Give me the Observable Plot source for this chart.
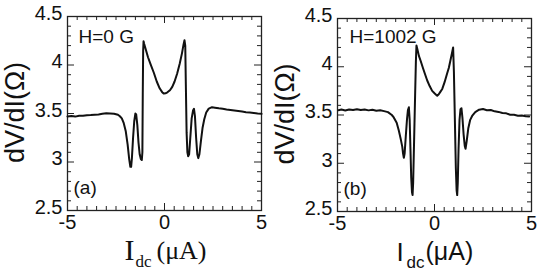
<!DOCTYPE html>
<html><head><meta charset="utf-8">
<script src="https://cdn.jsdelivr.net/npm/d3@7"></script>
<script src="https://cdn.jsdelivr.net/npm/@observablehq/plot@0.6"></script>
<style>
html,body{margin:0;padding:0;background:#fff;}
#row{display:flex;flex-direction:row;width:545px;height:270px;overflow:hidden;}
#row svg{display:block;flex:none;}
</style></head><body><div id="row"></div>
<script>
// ---- axes / ticks ----
const xDomain = [-5, 5];
const yDomain = [2.5, 4.5];
const xLabelTicks = [-5, 0, 5];
const xTickLabels = ["-5", "0", "5"];
const yLabelTicks = [2.5, 3, 3.5, 4, 4.5];
const yTickLabels = ["2.5", "3", "3.5", "4", "4.5"];
const xMinorTicks = [-4.5,-4,-3.5,-3,-2.5,-2,-1.5,-1,-0.5,0.5,1,1.5,2,2.5,3,3.5,4,4.5];
const xMajorTicks = [0];
const yMinorTicks = [2.6,2.7,2.8,2.9,3.1,3.2,3.3,3.4,3.6,3.7,3.8,3.9,4.1,4.2,4.3,4.4];
const yMajorTicks = [3, 3.5, 4];

// ---- panel (a) H = 0 G ----
const currentA = [-5.0,-4.8,-4.6,-4.4,-4.2,-4.0,-3.8,-3.6,-3.4,-3.2,-3.0,-2.8,-2.6,-2.4,-2.3,-2.2,-2.1,-2.0,-1.9,-1.82,-1.76,-1.72,-1.68,-1.62,-1.56,-1.50,-1.46,-1.40,-1.34,-1.28,-1.22,-1.17,-1.14,-1.12,-1.10,-1.08,-1.05,-0.95,-0.85,-0.72,-0.55,-0.40,-0.25,-0.12,-0.03,0.05,0.15,0.28,0.40,0.52,0.65,0.78,0.90,0.98,1.03,1.07,1.10,1.14,1.18,1.22,1.27,1.33,1.40,1.47,1.52,1.57,1.63,1.69,1.74,1.80,1.88,1.96,2.05,2.15,2.28,2.45,2.6,2.8,3.0,3.2,3.4,3.6,3.8,4.0,4.2,4.4,4.6,4.8,5.0];
const dvdiA = [3.470,3.474,3.468,3.477,3.476,3.482,3.484,3.488,3.490,3.497,3.503,3.500,3.497,3.487,3.472,3.450,3.400,3.320,3.180,3.030,2.950,2.950,3.040,3.250,3.420,3.500,3.490,3.380,3.200,3.080,3.030,3.020,3.100,3.700,4.150,4.245,4.220,4.150,4.080,4.010,3.920,3.830,3.760,3.720,3.705,3.708,3.718,3.740,3.775,3.830,3.910,4.010,4.120,4.210,4.255,4.200,3.800,3.300,3.100,3.060,3.080,3.250,3.450,3.530,3.548,3.470,3.250,3.080,3.040,3.080,3.220,3.350,3.440,3.510,3.550,3.565,3.560,3.553,3.548,3.541,3.536,3.531,3.526,3.520,3.514,3.510,3.506,3.501,3.497];

// ---- panel (b) H = 1002 G ----
const currentB = [-4.95,-4.8,-4.6,-4.4,-4.2,-4.0,-3.8,-3.6,-3.4,-3.2,-3.0,-2.8,-2.6,-2.4,-2.2,-2.1,-1.95,-1.84,-1.74,-1.66,-1.62,-1.58,-1.54,-1.48,-1.42,-1.37,-1.32,-1.28,-1.24,-1.20,-1.16,-1.13,-1.10,-1.05,-1.00,-0.96,-0.93,-0.88,-0.80,-0.72,-0.60,-0.50,-0.38,-0.25,-0.12,0.0,0.08,0.14,0.22,0.30,0.40,0.52,0.65,0.74,0.82,0.90,0.96,1.00,1.05,1.10,1.14,1.17,1.20,1.24,1.29,1.34,1.39,1.44,1.50,1.56,1.60,1.66,1.74,1.84,1.94,2.10,2.3,2.5,2.7,2.9,3.1,3.3,3.5,3.7,3.9,4.1,4.3,4.5,4.7,4.88];
const dvdiB = [3.550,3.556,3.547,3.557,3.552,3.560,3.551,3.557,3.548,3.554,3.545,3.549,3.540,3.530,3.500,3.475,3.420,3.340,3.250,3.170,3.100,3.056,3.100,3.280,3.450,3.550,3.580,3.450,3.150,2.850,2.700,2.670,2.800,3.250,3.700,4.050,4.220,4.180,4.110,4.065,3.990,3.930,3.860,3.800,3.750,3.725,3.710,3.700,3.715,3.740,3.770,3.840,3.930,3.990,4.065,4.140,4.200,3.950,3.450,2.950,2.720,2.670,2.800,3.150,3.450,3.560,3.570,3.470,3.300,3.180,3.150,3.230,3.360,3.450,3.490,3.530,3.555,3.562,3.550,3.552,3.538,3.532,3.520,3.517,3.503,3.502,3.493,3.494,3.486,3.485];

const fieldLabels = ["H=0 G", "H=1002 G"];
const panelTags = ["(a)", "(b)"];
const yTitle = "dV/dI(Ω)";
const xTitleMain = "I";
const xTitleSub = "dc";
const xTitleUnit = "(μA)";

function panel({I, V, field, tag, width, left, top, W, H, serif, xl}) {
  const data = I.map((x, i) => ({I: x, V: V[i]}));
  const sans = "'Liberation Sans', Arial, Helvetica, sans-serif";
  const titleFont = serif ? "'Liberation Serif', 'Times New Roman', serif" : sans;
  const tk = {stroke: "#222", strokeWidth: 1};
  return Plot.plot({
    width, height: 270,
    marginLeft: left, marginTop: top,
    marginRight: width - left - W, marginBottom: 270 - top - H,
    x: {domain: xDomain},
    y: {domain: yDomain},
    style: {fontFamily: sans, background: "white", overflow: "visible", color: "#111"},
    marks: [
      Plot.axisX({ticks: xLabelTicks, tickFormat: d => xTickLabels[xLabelTicks.indexOf(d)], tickSize: 0, tickPadding: 4, fontSize: 20, label: null}),
      Plot.axisY({ticks: yLabelTicks, tickFormat: d => yTickLabels[yLabelTicks.indexOf(d)], tickSize: 0, tickPadding: 5, dy: -3, fontSize: 20, label: null}),
      // inward minor ticks on all four sides
      Plot.tickX(xMinorTicks, {x: d => d, insetTop: H - 4, ...tk}),
      Plot.tickX(xMinorTicks, {x: d => d, insetBottom: H - 4, ...tk}),
      Plot.tickX(xMajorTicks, {x: d => d, insetTop: H - 7, ...tk}),
      Plot.tickX(xMajorTicks, {x: d => d, insetBottom: H - 7, ...tk}),
      Plot.tickY(yMinorTicks, {y: d => d, insetRight: W - 4, ...tk}),
      Plot.tickY(yMinorTicks, {y: d => d, insetLeft: W - 4, ...tk}),
      Plot.tickY(yMajorTicks, {y: d => d, insetRight: W - 7, ...tk}),
      Plot.tickY(yMajorTicks, {y: d => d, insetLeft: W - 7, ...tk}),
      Plot.frame({stroke: "#222", strokeWidth: 1.3}),
      Plot.line(data, {x: "I", y: "V", stroke: "#111", strokeWidth: 2, strokeLinejoin: "round"}),
      Plot.text([field], {text: d => d, frameAnchor: "top-left", dx: xl.fdx, dy: xl.fdy, fontSize: 19, textAnchor: "start", lineAnchor: "bottom"}),
      Plot.text([tag], {text: d => d, frameAnchor: "bottom-left", dx: 6, dy: -17, fontSize: 19, textAnchor: "start", lineAnchor: "bottom"}),
      Plot.text([yTitle], {text: d => d, frameAnchor: "left", dx: xl.ydx, dy: -1, rotate: -90, fontSize: 27, textAnchor: "middle", lineAnchor: "middle"}),
      Plot.text([xTitleMain], {text: d => d, frameAnchor: "bottom-left", dx: xl.idx, dy: 49, fontSize: serif ? 30 : 26, fontFamily: titleFont, textAnchor: "start", lineAnchor: "bottom"}),
      Plot.text([xTitleSub], {text: d => d, frameAnchor: "bottom-left", dx: xl.sdx, dy: 56, fontSize: 17, fontFamily: titleFont, textAnchor: "start", lineAnchor: "bottom"}),
      Plot.text([xTitleUnit], {text: d => d, frameAnchor: "bottom-left", dx: xl.udx, dy: 48, fontSize: serif ? 26 : 25, fontFamily: titleFont, textAnchor: "start", lineAnchor: "bottom"})
    ]
  });
}

const row = document.getElementById("row");
row.append(panel({I: currentA, V: dvdiA, field: fieldLabels[0], tag: panelTags[0], width: 272, left: 67, top: 16, W: 194, H: 194, serif: true,
  xl: {fdx: 11, fdy: 26, ydx: -52, idx: 57, sdx: 68, udx: 89}}));
row.append(panel({I: currentB, V: dvdiB, field: fieldLabels[1], tag: panelTags[1], width: 273, left: 65, top: 18, W: 194, H: 193, serif: false,
  xl: {fdx: 12, fdy: 24, ydx: -52, idx: 59, sdx: 69, udx: 88}}));
</script></body></html>
